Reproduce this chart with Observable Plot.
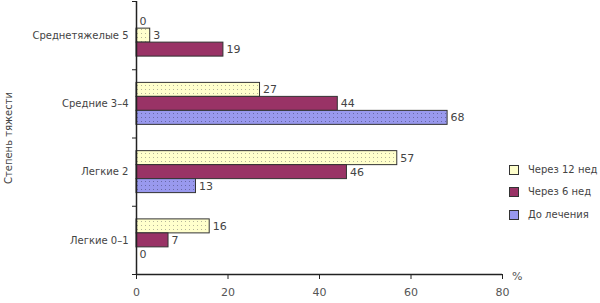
<!DOCTYPE html>
<html>
<head>
<meta charset="utf-8">
<script src="https://cdn.jsdelivr.net/npm/d3@7"></script>
<script src="https://cdn.jsdelivr.net/npm/@observablehq/plot@0.6"></script>
<style>
  body { margin: 0; background: #fff; }
  #wrap { position: relative; width: 600px; height: 303px; font-family: "DejaVu Sans", sans-serif; }
  .leg { position: absolute; left: 509px; font-size: 10px; color: #444; display: flex; align-items: center; white-space: nowrap; }
  .sw { width: 8px; height: 8px; border: 1px solid #333; margin-right: 9px; box-sizing: content-box; }
</style>
</head>
<body>
<div id="wrap"></div>
<script>
const categories = ["Среднетяжелые 5", "Средние 3–4", "Легкие 2", "Легкие 0–1"];
const seriesNames = ["Через 12 нед", "Через 6 нед", "До лечения"];
const week12 = [3, 27, 57, 16];
const week6 = [19, 44, 46, 7];
const beforeTx = [0, 68, 13, 0];
const xTicks = [0, 20, 40, 60, 80];
const seriesColors = ["url(#pYellow)", "#993366", "url(#pBlue)"];
const swatchColors = ["#FFFFCC", "#993366", "#9999EE"];

// order of the bars inside each group, top to bottom (the original puts the empty bar first in the top group)
const slotOrder = categories.map((c, i) => i === 0 ? ["До лечения", "Через 12 нед", "Через 6 нед"] : seriesNames);

const valuesBySeries = [week12, week6, beforeTx];
const rows = categories.flatMap((cat, ci) => seriesNames.map((s, si) => ({
  cat, ci, series: s, value: valuesBySeries[si][ci], slot: slotOrder[ci].indexOf(s)
})));

const bw = 0.205, pad = (1 - 3 * bw) / 2;

const svg = Plot.plot({
  width: 600, height: 303,
  marginLeft: 136, marginRight: 98, marginTop: 1, marginBottom: 29,
  style: { fontFamily: "DejaVu Sans, sans-serif", fontSize: "10px", color: "#444", background: "white" },
  x: { type: "linear", domain: [0, 80] },
  y: { type: "linear", domain: [4, 0] },
  color: { type: "ordinal", domain: seriesNames, range: seriesColors },
  marks: [
    Plot.rect(rows.filter(d => d.value > 0), {
      x1: 0, x2: "value",
      y1: d => d.ci + pad + d.slot * bw,
      y2: d => d.ci + pad + (d.slot + 1) * bw,
      fill: "series", stroke: "#333", strokeWidth: 1
    }),
    Plot.text(rows, {
      x: "value", y: d => d.ci + pad + (d.slot + 0.5) * bw,
      text: d => String(d.value), textAnchor: "start", dx: 3, fill: "#444", fontSize: 11
    }),
    Plot.ruleX([0], { stroke: "#222", strokeWidth: 1.5 }),
    Plot.ruleY([4], { stroke: "#222", strokeWidth: 1.5 }),
    Plot.axisX({ ticks: xTicks, tickSize: 5, tickPadding: 9, stroke: "#222", fill: "#555", label: null, fontSize: 11 }),
    Plot.axisY({ ticks: [0, 1, 2, 3, 4], tickFormat: () => "", tickSize: 4, stroke: "#222", label: null }),
    Plot.axisY({
      ticks: [0.5, 1.5, 2.5, 3.5], tickFormat: v => categories[Math.floor(v)], tickSize: 0, tickPadding: 8, fill: "#444",
      label: "Степень тяжести", labelAnchor: "center", labelArrow: "none", labelOffset: 132
    }),
    Plot.text(["%"], { frameAnchor: "bottom-right", dx: 20, dy: 5, fill: "#555", fontSize: 11 })
  ]
});

const defs = document.createElementNS("http://www.w3.org/2000/svg", "defs");
defs.innerHTML = `
  <pattern id="pYellow" width="4" height="4" patternUnits="userSpaceOnUse">
    <rect width="4" height="4" fill="#FFFFCC"/><rect x="1" y="1" width="1" height="1" fill="#b5b59a"/>
  </pattern>
  <pattern id="pBlue" width="4" height="4" patternUnits="userSpaceOnUse">
    <rect width="4" height="4" fill="#9999EE"/><rect x="1" y="1" width="1" height="1" fill="#6a6aa8"/>
  </pattern>`;
svg.insertBefore(defs, svg.firstChild);

const wrap = document.getElementById("wrap");
wrap.appendChild(svg);

const legendY = [170, 192, 215];
seriesNames.forEach((s, i) => {
  const item = document.createElement("div");
  item.className = "leg";
  item.style.top = (legendY[i] - 6) + "px";
  const sw = document.createElement("div");
  sw.className = "sw";
  sw.style.background = swatchColors[i];
  item.appendChild(sw);
  item.appendChild(document.createTextNode(s));
  wrap.appendChild(item);
});
</script>
</body>
</html>
